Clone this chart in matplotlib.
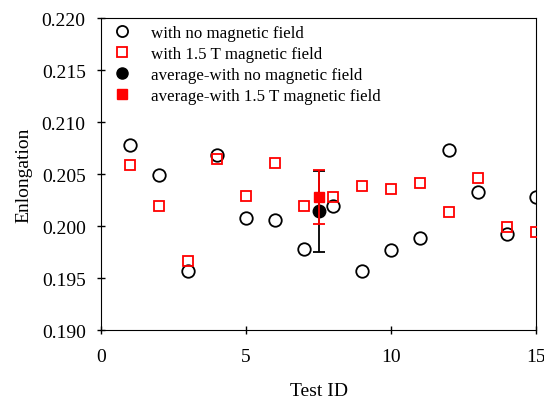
import matplotlib
matplotlib.use('Agg')
import matplotlib.pyplot as plt
from matplotlib.lines import Line2D
import numpy as np

# test ids and elongation readings
test_id = np.arange(1, 16)
no_field = [0.2078, 0.2049, 0.1957, 0.2068, 0.2008, 0.2006, 0.1978, 0.2019,
            0.1957, 0.1977, 0.1988, 0.2073, 0.2033, 0.1992, 0.2028]
with_field = [0.2059, 0.2019, 0.1966, 0.2064, 0.2029, 0.2061, 0.2019, 0.2028,
              0.2038, 0.2036, 0.2041, 0.2013, 0.2046, 0.1999, 0.1994]

# averages shown at the middle of the test range
avg_x = 7.5
avg_no_field = 0.2014
err_no_field = 0.0039
avg_with_field = 0.2028
err_with_field = 0.0026

labels = ['with no magnetic field', 'with 1.5 T magnetic field',
          'average-with no magnetic field', 'average-with 1.5 T magnetic field']

plt.rcParams['font.family'] = ['Liberation Serif', 'DejaVu Serif']

fig = plt.figure(figsize=(5.44, 4.06), dpi=100)
ax = fig.add_axes([0.1857, 0.1847, 0.7996, 0.7685])

ax.plot(test_id, no_field, 'o', mfc='none', mec='black', ms=9, mew=1.3, zorder=3)
ax.plot(test_id, with_field, 's', mfc='none', mec='red', ms=7.5, mew=1.3, zorder=3)
ax.errorbar(avg_x, avg_no_field, yerr=err_no_field, fmt='o', color='black',
            ms=9, capsize=4.5, elinewidth=1.3, capthick=1.3, zorder=4)
ax.errorbar(avg_x, avg_with_field, yerr=err_with_field, fmt='s', color='red',
            ms=7.5, capsize=4.5, elinewidth=1.3, capthick=1.3, zorder=5)

ax.set_xlim(0, 15)
ax.set_ylim(0.190, 0.220)
ax.set_xticks([0, 5, 10, 15])
ax.set_yticks(np.arange(0.190, 0.2201, 0.005))
ax.yaxis.set_major_formatter(matplotlib.ticker.FormatStrFormatter('%.3f'))
ax.tick_params(direction='inout', length=6, width=1, labelsize=14)
ax.tick_params(axis='y', pad=8)
ax.tick_params(axis='x', pad=10)
ax.tick_params(top=False, right=False)

ax.set_xlabel('Test ID', fontsize=14, labelpad=12)
ax.set_ylabel('Enlongation', fontsize=14, labelpad=7)

handles = [
    Line2D([], [], ls='none', marker='o', mfc='none', mec='black', ms=8, mew=1.3),
    Line2D([], [], ls='none', marker='s', mfc='none', mec='red', ms=7, mew=1.3),
    Line2D([], [], ls='none', marker='o', color='black', ms=8),
    Line2D([], [], ls='none', marker='s', color='red', ms=7),
]
ax.legend(handles, labels, loc='upper left', frameon=False, fontsize=12.2,
          handlelength=1.2, handletextpad=1.1, labelspacing=0.3,
          borderaxespad=0.0, bbox_to_anchor=(0.01, 1.0))

plt.savefig('out.png', dpi=100)
